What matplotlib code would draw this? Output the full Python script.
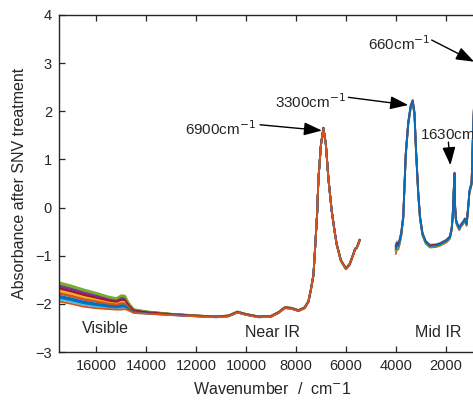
import matplotlib
matplotlib.use("Agg")
import matplotlib.pyplot as plt
import numpy as np

plt.rcParams['font.family'] = ['Liberation Sans', 'DejaVu Sans']

# Visible / near-IR spectra (cm^-1, absorbance after SNV)
vis_nir_wavenumber = [17500, 17000, 16500, 16000, 15500, 15200, 15000, 14850, 14700,
                      14500, 14000, 13000, 12000, 11200, 10700, 10350, 10000, 9500,
                      9000, 8700, 8450, 8200, 7900, 7650, 7500, 7400, 7300, 7240,
                      7150, 7100, 7000, 6900, 6800, 6700, 6570, 6450, 6370, 6200,
                      6000, 5850, 5700, 5630, 5570, 5520, 5450]
vis_nir_absorbance = [-1.75, -1.81, -1.88, -1.93, -1.98, -2.00, -1.97, -1.97, -2.06,
                      -2.15, -2.18, -2.22, -2.25, -2.27, -2.25, -2.17, -2.22, -2.27,
                      -2.26, -2.18, -2.08, -2.09, -2.14, -2.08, -1.95, -1.70, -1.40, -0.90,
                      -0.10, 0.60, 1.30, 1.65, 1.30, 0.60, -0.06, -0.50, -0.76, -1.10,
                      -1.27, -1.18, -0.97, -0.86, -0.84, -0.78, -0.68]
# half-width of the sample-to-sample scatter at each wavenumber
vis_nir_spread = [0.20, 0.19, 0.18, 0.16, 0.13, 0.12, 0.15, 0.14, 0.08,
                  0.04, 0.025, 0.015, 0.01, 0.01, 0.01, 0.01, 0.01, 0.01,
                  0.01, 0.01, 0.01, 0.01, 0.01, 0.01, 0.01, 0.01, 0.01, 0.01,
                  0.01, 0.01, 0.01, 0.01, 0.01, 0.01, 0.01, 0.01, 0.01, 0.01,
                  0.01, 0.01, 0.01, 0.01, 0.01, 0.01, 0.01]
vis_nir_sample_shift = [-0.5, -0.2, 0.1, 0.7, 1.0, -0.7, 0.45, -0.4,
                        -0.1, 0.25, 0.55, 0.85, -0.8, 0.35, -0.6, -1.0]

# Mid-IR spectra
mid_ir_wavenumber = [4000, 3950, 3900, 3850, 3780, 3700, 3600, 3500, 3400, 3320,
                     3250, 3190, 3100, 3030, 2930, 2800, 2630, 2400, 2250, 2100,
                     1960, 1830, 1760, 1720, 1680, 1645, 1620, 1590, 1555, 1455,
                     1400, 1295, 1230, 1160, 1080, 1050, 960, 900, 850, 780,
                     700, 660, 600, 500, 400]
mid_ir_absorbance = [-0.86, -0.78, -0.80, -0.72, -0.55, -0.20, 1.10, 1.75, 2.10, 2.20,
                     1.95, 1.20, 0.30, -0.20, -0.55, -0.72, -0.80, -0.79, -0.77, -0.73,
                     -0.69, -0.62, -0.45, -0.20, 0.30, 0.70, 0.00, -0.25, -0.33, -0.44,
                     -0.38, -0.31, -0.25, -0.35, 0.10, 0.32, 0.50, 1.60, 2.30, 2.80,
                     2.95, 3.00, 2.80, 2.40, 2.00]
mid_ir_spread = [0.10, 0.08, 0.07, 0.06, 0.05, 0.04, 0.04, 0.04, 0.04, 0.04,
                 0.04, 0.04, 0.04, 0.04, 0.03, 0.03, 0.03, 0.03, 0.03, 0.03,
                 0.03, 0.03, 0.03, 0.03, 0.03, 0.03, 0.03, 0.03, 0.03, 0.03,
                 0.03, 0.03, 0.03, 0.03, 0.03, 0.03, 0.03, 0.03, 0.03, 0.03,
                 0.03, 0.03, 0.03, 0.03, 0.03]
mid_ir_sample_shift = [-0.2, -1.0, 0.1, 0.4, -0.5, 1.0, 0.6, 0.0]

x_ticks = [16000, 14000, 12000, 10000, 8000, 6000, 4000, 2000]
y_ticks = [-3, -2, -1, 0, 1, 2, 3, 4]

line_colors = ['#0072BD', '#D95319', '#EDB120', '#7E2F8E', '#77AC30', '#4DBEEE', '#A2142F']
axis_color = '#262626'

fig = plt.figure(figsize=(4.73, 4.0), dpi=100)
ax = fig.add_axes([0.1247, 0.12, 0.9019, 0.8425])

wn = np.array(vis_nir_wavenumber)
base = np.array(vis_nir_absorbance)
spread = np.array(vis_nir_spread)
for i, s in enumerate(vis_nir_sample_shift):
    ax.plot(wn, base + s * spread, color=line_colors[i % 7], lw=1.3)

wn = np.array(mid_ir_wavenumber)
base = np.array(mid_ir_absorbance)
spread = np.array(mid_ir_spread)
for i, s in enumerate(mid_ir_sample_shift):
    ax.plot(wn, base + s * spread, color=line_colors[i % 7], lw=1.3)

ax.set_xlim(17500, 400)
ax.set_ylim(-3, 4)
ax.set_xticks(x_ticks)
ax.set_yticks(y_ticks)
ax.tick_params(direction='in', length=4, width=0.9, top=True, right=True,
               labelsize=10.5, colors=axis_color, pad=5)
for sp in ax.spines.values():
    sp.set_color(axis_color)
    sp.set_linewidth(1.0)

ax.set_ylabel('Absorbance after SNV treatment', fontsize=11.5, color=axis_color, labelpad=6)
ax.set_xlabel('Wavenumber  /  cm$^{-}$1', fontsize=11.5, color=axis_color, labelpad=6)

arrow_kw = dict(arrowstyle='-|>,head_length=1.1,head_width=0.4', color='black',
                lw=1.0, mutation_scale=10, shrinkA=0, shrinkB=0)
ax.annotate('', xy=(6960, 1.60), xytext=(9440, 1.72), arrowprops=arrow_kw)
ax.annotate('', xy=(3500, 2.13), xytext=(5900, 2.29), arrowprops=arrow_kw)
ax.annotate('', xy=(860, 3.03), xytext=(2560, 3.48), arrowprops=arrow_kw)
ax.annotate('', xy=(1810, 0.88), xytext=(1890, 1.36), arrowprops=arrow_kw)

ax.text(9600, 1.51, '6900cm$^{-1}$', fontsize=11, ha='right', va='baseline', color=axis_color)
ax.text(5990, 2.07, '3300cm$^{-1}$', fontsize=11, ha='right', va='baseline', color=axis_color)
ax.text(2620, 3.27, '660cm$^{-1}$', fontsize=11, ha='right', va='baseline', color=axis_color)
ax.text(3030, 1.40, '1630cm$^{-1}$', fontsize=11, ha='left', va='baseline', color=axis_color)

ax.text(16590, -2.61, 'Visible', fontsize=11.5, ha='left', va='baseline', color=axis_color)
ax.text(10040, -2.69, 'Near IR', fontsize=11.5, ha='left', va='baseline', color=axis_color)
ax.text(3230, -2.69, 'Mid IR', fontsize=11.5, ha='left', va='baseline', color=axis_color)

fig.savefig('out.png', dpi=100)
